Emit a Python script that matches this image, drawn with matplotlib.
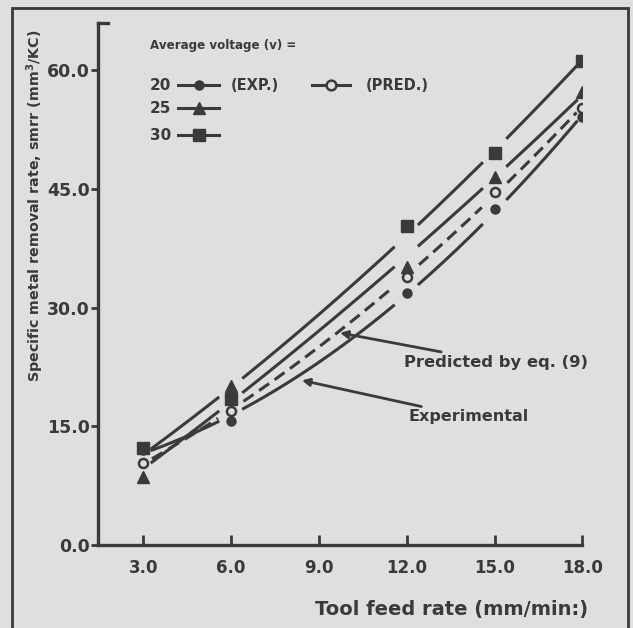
import numpy as np
import matplotlib
matplotlib.use("Agg")
import matplotlib.pyplot as plt
from matplotlib.lines import Line2D
from matplotlib.patches import Rectangle

# feed rates (mm/min)
feed = [3.0, 6.0, 12.0, 15.0, 18.0]
# specific metal removal rate
exp_20 = [12.0, 15.7, 31.8, 42.5, 54.0]
exp_25 = [8.6, 20.1, 35.1, 46.5, 57.2]
exp_30 = [12.2, 18.4, 40.3, 49.5, 61.1]
pred_20 = [10.4, 16.9, 33.9, 44.6, 55.2]

xticks = [3.0, 6.0, 9.0, 12.0, 15.0, 18.0]
yticks = [0.0, 15.0, 30.0, 45.0, 60.0]

ink = "#3a3a3a"
bg = "#dfdfdf"
plt.rcParams['font.family'] = ['DejaVu Sans']
plt.rcParams['font.weight'] = 'bold'

fig = plt.figure(figsize=(6.33, 6.28), dpi=100, facecolor=bg)
ax = fig.add_axes([0.155, 0.132, 0.765, 0.831], facecolor=bg)

fx = np.array(feed)


def fit_curve(y, style):
    # quadratic trend through the measured points, broken near each marker
    c = np.polyfit(fx, y, 2)
    xs = np.linspace(3.3, 17.8, 400)
    ys = np.polyval(c, xs)
    for f in feed[1:-1]:
        ys[np.abs(xs - f) < 0.42] = np.nan
    ax.plot(xs, ys, color=ink, lw=2.2, linestyle=style, dash_capstyle='butt')


fit_curve(exp_30, '-')
fit_curve(exp_25, '-')
fit_curve(pred_20, (0, (4, 2.2)))
fit_curve(exp_20, '-')

ax.plot(feed, exp_20, 'o', color=ink, ms=6.5, ls='none')
ax.plot(feed, pred_20, 'o', mfc=bg, mec=ink, mew=1.8, ms=6.5, ls='none')
ax.plot(feed, exp_25, '^', color=ink, ms=9, ls='none')
ax.plot(feed, exp_30, 's', color=ink, ms=9, ls='none')

ax.set_xlim(1.46, 18.0)
ax.set_ylim(0, 65.9)
ax.set_xticks(xticks)
ax.set_yticks(yticks)
ax.set_xticklabels([f"{v:.1f}" for v in xticks], fontsize=12, color=ink, fontweight='bold')
ax.set_yticklabels([f"{v:.1f}" for v in yticks], fontsize=12.5, color=ink, fontweight='bold')
ax.tick_params(axis='x', direction='in', length=7, width=2, color=ink, pad=10)
ax.tick_params(axis='y', direction='out', length=5, width=2, color=ink, pad=1)
for s in ['top', 'right']:
    ax.spines[s].set_visible(False)
for s in ['left', 'bottom']:
    ax.spines[s].set_linewidth(2.4)
    ax.spines[s].set_color(ink)
# little hook at the top of the y axis
ax.plot([0, 0.02], [1, 1], transform=ax.transAxes, color=ink, lw=2.4, clip_on=False)

# legend block
tk = dict(transform=ax.transAxes, color=ink, fontweight='bold', va='center')
ax.text(0.107, 0.958, "Average voltage (v) =", fontsize=8.6, **tk)
ax.text(0.107, 0.881, "20", fontsize=11, **tk)
ax.text(0.107, 0.837, "25", fontsize=11, **tk)
ax.text(0.107, 0.785, "30", fontsize=11, **tk)
ax.text(0.273, 0.881, "(EXP.)", fontsize=10.5, **tk)
ax.text(0.552, 0.881, "(PRED.)", fontsize=10.5, **tk)
samples = [(0.881, 'o', 6.5), (0.837, '^', 9), (0.785, 's', 9)]
for yy, m, size in samples:
    ax.add_line(Line2D([0.165, 0.2075, 0.25], [yy, yy, yy], transform=ax.transAxes,
                       color=ink, lw=2.2, marker=m, ms=size, markevery=[1], clip_on=False))
ax.add_line(Line2D([0.442, 0.481, 0.521], [0.881] * 3, transform=ax.transAxes, color=ink, lw=2.2,
                   marker='o', markevery=[1], mfc=bg, mec=ink, mew=1.8, ms=7, clip_on=False))

# annotations
arrow = dict(arrowstyle='-|>', color=ink, lw=2, mutation_scale=11, shrinkA=0, shrinkB=0)
ax.annotate("Predicted by eq. (9)", xy=(9.72, 26.8), xytext=(11.9, 23.1), fontsize=11.8,
            color=ink, fontweight='bold', va='center', arrowprops=arrow)
ax.annotate("Experimental", xy=(8.42, 20.8), xytext=(12.05, 16.2), fontsize=11.5,
            color=ink, fontweight='bold', va='center', arrowprops=arrow)

fig.text(0.055, 0.672, "Specific metal removal rate, smrr (mm$^3$/KC)", rotation=90,
         ha='center', va='center', fontsize=10.3, color=ink, fontweight='bold')
fig.text(0.713, 0.029, "Tool feed rate (mm/min:)", ha='center', va='center',
         fontsize=14, color=ink, fontweight='bold')

# scanned page frame
fig.add_artist(Rectangle((0.019, -0.01), 0.973, 0.997, transform=fig.transFigure,
                         fill=False, edgecolor=ink, lw=2))

fig.savefig("out.png", dpi=100, facecolor=bg)
